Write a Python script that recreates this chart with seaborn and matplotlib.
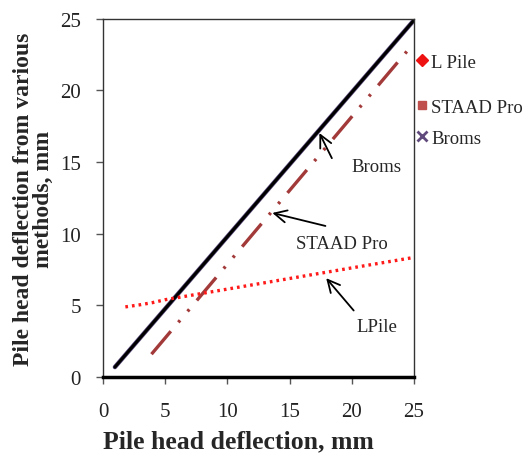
import matplotlib
matplotlib.use("Agg")
import matplotlib.pyplot as plt
import seaborn as sns
import pandas as pd
from matplotlib.lines import Line2D

# Data
broms_x = [0.96, 25.0]
broms_y = [0.7, 24.9]
staad_x = [3.9, 24.6]
staad_y = [1.6, 22.9]
lpile_x = [1.8, 3.0, 4.0, 5.0, 10.0, 15.0, 20.0, 25.0]
lpile_y = [4.9, 5.05, 5.2, 5.4, 6.14, 6.88, 7.62, 8.35]
ticks = [0, 5, 10, 15, 20, 25]
legend_labels = ["L Pile", "STAAD Pro", "Broms"]

sns.set_style("white")
plt.rcParams['font.family'] = ['Liberation Serif', 'DejaVu Serif']

fig = plt.figure(figsize=(5.28, 4.6), dpi=100)
ax = fig.add_axes([0.195, 0.178, 0.589, 0.779])

df_b = pd.DataFrame({"x": broms_x, "y": broms_y})
df_s = pd.DataFrame({"x": staad_x, "y": staad_y})
df_l = pd.DataFrame({"x": lpile_x, "y": lpile_y})

sns.lineplot(data=df_b, x="x", y="y", ax=ax, color="#5a4a7c", lw=3.2, sort=False)
sns.lineplot(data=df_b, x="x", y="y", ax=ax, color="black", lw=2.2, sort=False)
sns.lineplot(data=df_s, x="x", y="y", ax=ax, color="#a33a3a", lw=2.4, sort=False)
ax.lines[-1].set_dashes((9, 3.5, 0.8, 3.5, 0.8, 3.5))
sns.lineplot(data=df_l, x="x", y="y", ax=ax, color="#ff1a1a", lw=2.4, sort=False)
ax.lines[-1].set_dashes((0.8, 1.2))

ax.set_xlim(0, 25)
ax.set_ylim(0, 25)
ax.set_xticks(ticks)
ax.set_yticks(ticks)
ax.tick_params(axis='both', direction='out', length=5, width=1, labelsize=15,
               color='#555555', labelcolor='#222222', bottom=True, left=True)
ax.tick_params(axis='x', pad=13)
ax.tick_params(axis='y', pad=11)
for s in ['left', 'right', 'top']:
    ax.spines[s].set_color('#333333')
    ax.spines[s].set_linewidth(1.0)
ax.spines['bottom'].set_color('black')
ax.spines['bottom'].set_linewidth(2.5)

ax.set_xlabel("Pile head deflection, mm", fontsize=18.5, fontweight='bold')
ax.xaxis.set_label_coords(0.437, -0.145)
ax.set_ylabel("Pile head deflection from various\nmethods, mm", fontsize=17,
              fontweight='bold', labelpad=4, linespacing=0.95)

# Annotations
arrow = dict(arrowstyle='->', color='black', lw=1.3, mutation_scale=22)
ax.annotate("", xy=(17.3, 17.2), xytext=(18.5, 15.1), arrowprops=arrow)
ax.text(20.0, 14.7, "Broms", fontsize=13.5, ha='left', va='center')
ax.annotate("", xy=(13.4, 11.5), xytext=(18.1, 10.5), arrowprops=arrow)
ax.text(19.2, 9.3, "STAAD Pro", fontsize=13.5, ha='center', va='center')
ax.annotate("", xy=(17.8, 7.05), xytext=(20.3, 4.5), arrowprops=arrow)
ax.text(22.0, 3.5, "LPile", fontsize=13.5, ha='center', va='center')

handles = [
    Line2D([], [], ls='none', marker='D', color='#ee1111', markersize=6),
    Line2D([], [], ls='none', marker='s', color='#c0504d', markersize=6),
    Line2D([], [], ls='none', marker='x', color='#604a7b', markersize=7, mew=2),
]
legend_y = [1 - 63 / 460, 1 - 108 / 460, 1 - 139 / 460]
for h, lab, yy in zip(handles, legend_labels, legend_y):
    fig.legend([h], [lab], loc='center left', bbox_to_anchor=(0.788, yy),
               frameon=False, fontsize=13.5, handlelength=0.6, handletextpad=0.2,
               borderaxespad=0, borderpad=0)

fig.savefig("out.png", dpi=100)
